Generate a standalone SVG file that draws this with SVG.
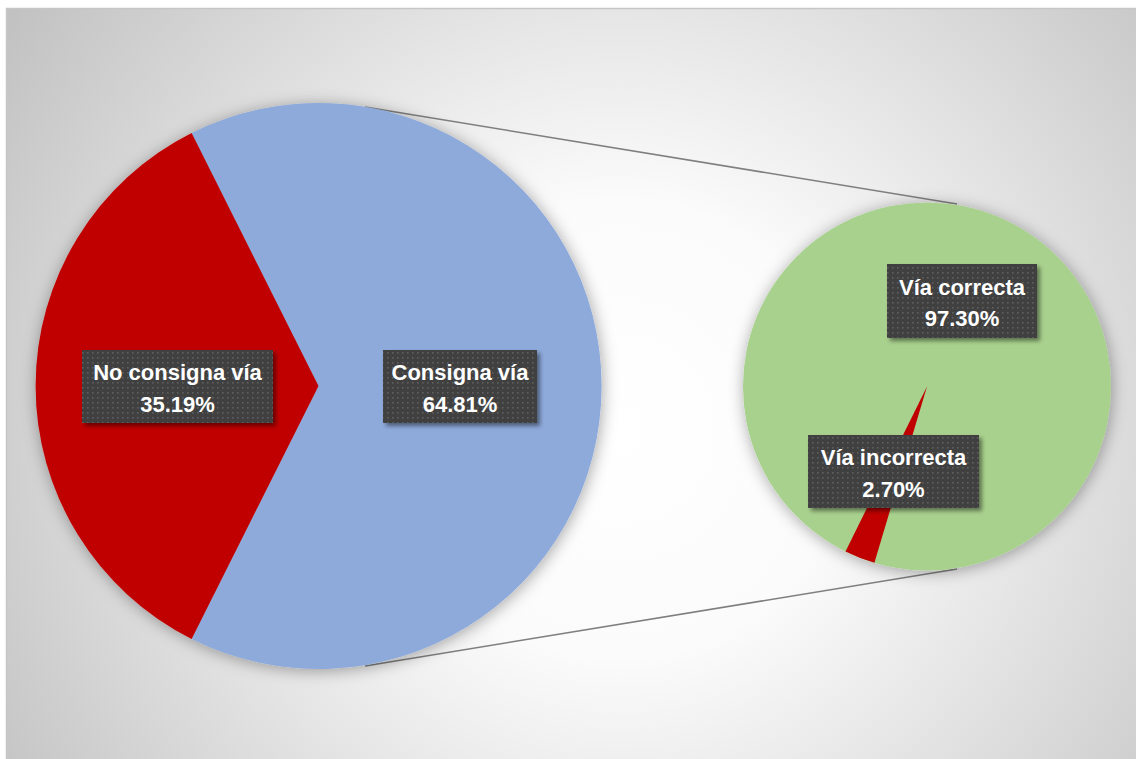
<svg xmlns="http://www.w3.org/2000/svg" width="1136" height="759" viewBox="0 0 1136 759">
  <defs>
    <radialGradient id="bg" cx="620" cy="430" r="760" gradientUnits="userSpaceOnUse">
      <stop offset="0" stop-color="#ffffff"/>
      <stop offset="0.3" stop-color="#fbfbfb"/>
      <stop offset="1" stop-color="#bfbfbf"/>
    </radialGradient>
    <pattern id="dots" x="0" y="0" width="5" height="5" patternUnits="userSpaceOnUse">
      <rect width="5" height="5" fill="#404040"/>
      <rect x="2" y="2" width="1.6" height="1.6" fill="#5e5e5e"/>
    </pattern>
    <filter id="pieShadow" x="-20%" y="-20%" width="140%" height="140%">
      <feDropShadow dx="1" dy="2" stdDeviation="8" flood-color="#000000" flood-opacity="0.35"/>
    </filter>
    <filter id="lblShadow" x="-10%" y="-10%" width="130%" height="140%">
      <feDropShadow dx="3" dy="3" stdDeviation="2" flood-color="#000000" flood-opacity="0.45"/>
    </filter>
  </defs>
  <style>
    .lbl rect { fill: url(#dots); }
    .lbl text { font-family: "Liberation Sans", Arial, sans-serif; font-weight: bold; font-size: 22px; fill: #ffffff; text-anchor: middle; }
    .conn { stroke: #7f7f7f; stroke-width: 1.5; fill: none; }
  </style>
  <rect x="0" y="0" width="1136" height="759" fill="#ffffff"/>
  <rect x="6.5" y="8.5" width="1140" height="760" fill="url(#bg)" stroke="#c6c6c6" stroke-width="1.5"/>

  <g id="connectors">
    <line class="conn" x1="365" y1="107" x2="957" y2="204"/>
    <line class="conn" x1="365" y1="666" x2="957" y2="569"/>
  </g>

  <g id="pie-main" filter="url(#pieShadow)">
    <path id="slice-consigna" d="M318.5,386 L191.6,133.1 A283,283 0 1 1 191.6,638.9 Z" fill="#8eaadb"/>
    <path id="slice-no-consigna" d="M318.5,386 L191.6,133.1 A283,283 0 0 0 191.6,638.9 Z" fill="#c00000"/>
  </g>

  <g id="pie-secondary" filter="url(#pieShadow)">
    <circle id="slice-via-correcta" cx="927" cy="386.5" r="184" fill="#a9d18e"/>
    <path id="slice-via-incorrecta" d="M927,386.5 L874.4,562.8 A184,184 0 0 1 845.5,551.5 Z" fill="#c00000"/>
  </g>

  <g id="label-no-consigna" class="lbl">
    <rect x="82" y="350" width="191" height="73" filter="url(#lblShadow)"/>
    <text x="177.5" y="380">No consigna vía</text>
    <text x="177.5" y="412">35.19%</text>
  </g>
  <g id="label-consigna" class="lbl">
    <rect x="383" y="350" width="154" height="73" filter="url(#lblShadow)"/>
    <text x="460" y="380">Consigna vía</text>
    <text x="460" y="412">64.81%</text>
  </g>
  <g id="label-via-correcta" class="lbl">
    <rect x="887" y="264" width="150" height="74" filter="url(#lblShadow)"/>
    <text x="962" y="295">Vía correcta</text>
    <text x="962" y="326">97.30%</text>
  </g>
  <g id="label-via-incorrecta" class="lbl">
    <rect x="808" y="435" width="171" height="73" filter="url(#lblShadow)"/>
    <text x="893.5" y="465">Vía incorrecta</text>
    <text x="893.5" y="497">2.70%</text>
  </g>
</svg>
